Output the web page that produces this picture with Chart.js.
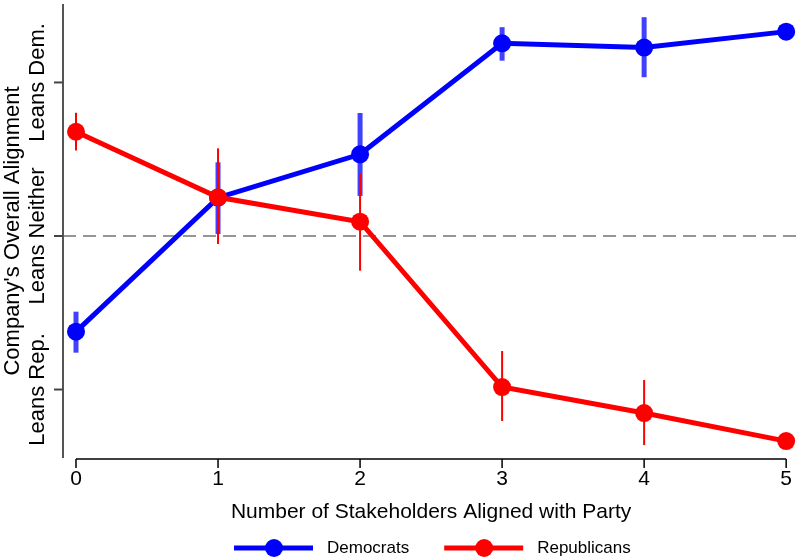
<!DOCTYPE html>
<html>
<head>
<meta charset="utf-8">
<script src="https://cdn.jsdelivr.net/npm/chart.js@4/dist/chart.umd.min.js"></script>
<style>
  html, body { margin: 0; padding: 0; background: #fff; }
  canvas { display: block; }
</style>
</head>
<body>
<canvas id="c" width="801" height="557"></canvas>
<script>
// Number of stakeholders aligned with the respondent's party
const stakeholders = [0, 1, 2, 3, 4, 5];
const xTickLabels = ['0', '1', '2', '3', '4', '5'];

// Mean perceived alignment (-1 = leans Rep., 0 = neither, 1 = leans Dem.) with CI bounds
const demMean = [-0.623, 0.250, 0.532, 1.255, 1.227, 1.331];
const demLow  = [-0.760, 0.013, 0.261, 1.142, 1.034, null];
const demHigh = [-0.493, 0.480, 0.801, 1.360, 1.425, null];

const repMean = [0.679, 0.252, 0.093, -0.984, -1.153, -1.336];
const repLow  = [0.556, -0.052, -0.226, -1.205, -1.362, null];
const repHigh = [0.803, 0.571, 0.408, -0.749, -0.938, null];

const yTickValues = [-1, 0, 1];
const yTickLabels = ['Leans Rep.', 'Leans Neither', 'Leans Dem.'];

const FONT = '"Liberation Sans", Arial, Helvetica, sans-serif';

const errorBars = [
  { low: demLow, high: demHigh, color: 'rgba(0,0,255,0.75)', width: 5 },
  { low: repLow, high: repHigh, color: '#ff0000', width: 2 }
];

const stataPlot = {
  id: 'stataPlot',
  beforeDatasetsDraw(chart) {
    const { ctx, chartArea: a, scales: { x, y } } = chart;
    const axisX = a.left - 13;
    ctx.save();
    // dashed reference line at "Leans Neither"
    const y0 = y.getPixelForValue(0);
    ctx.strokeStyle = '#969696';
    ctx.lineWidth = 2;
    ctx.setLineDash([13, 7]);
    ctx.beginPath();
    ctx.moveTo(axisX, y0);
    ctx.lineTo(chart.width, y0);
    ctx.stroke();
    ctx.setLineDash([]);

    // y axis, ticks and rotated labels
    ctx.strokeStyle = '#555';
    ctx.lineWidth = 2;
    ctx.beginPath();
    ctx.moveTo(axisX, a.top);
    ctx.lineTo(axisX, a.bottom);
    ctx.stroke();
    yTickValues.forEach((v, i) => {
      const py = y.getPixelForValue(v);
      ctx.strokeStyle = '#444';
      ctx.beginPath();
      ctx.moveTo(axisX - 9, py);
      ctx.lineTo(axisX, py);
      ctx.stroke();
      ctx.save();
      ctx.translate(43.5, py);
      ctx.rotate(-Math.PI / 2);
      ctx.font = '22px ' + FONT;
      ctx.fillStyle = '#000';
      ctx.textAlign = 'center';
      ctx.textBaseline = 'alphabetic';
      ctx.fillText(yTickLabels[i], 0, 0);
      ctx.restore();
    });

    // x axis line with downward ticks
    const xb = a.bottom + 1;
    ctx.strokeStyle = '#000';
    ctx.lineWidth = 1.5;
    ctx.beginPath();
    ctx.moveTo(x.getPixelForValue(stakeholders[0]), xb);
    ctx.lineTo(x.getPixelForValue(stakeholders[stakeholders.length - 1]), xb);
    ctx.stroke();
    stakeholders.forEach(v => {
      const px = x.getPixelForValue(v);
      ctx.beginPath();
      ctx.moveTo(px, xb);
      ctx.lineTo(px, xb + 9);
      ctx.stroke();
    });
    ctx.restore();
  },
  afterDatasetDraw(chart, args) {
    const bars = errorBars[args.index];
    if (!bars) return;
    const { ctx, scales: { x, y } } = chart;
    ctx.save();
    ctx.strokeStyle = bars.color;
    ctx.lineWidth = bars.width;
    ctx.lineCap = 'butt';
    bars.low.forEach((lo, i) => {
      const hi = bars.high[i];
      if (lo == null || hi == null) return;
      const px = x.getPixelForValue(stakeholders[i]);
      ctx.beginPath();
      ctx.moveTo(px, y.getPixelForValue(lo));
      ctx.lineTo(px, y.getPixelForValue(hi));
      ctx.stroke();
    });
    ctx.restore();
  },
  afterDraw(chart) {
    // legend row: line-with-marker key followed by the series name
    const ctx = chart.ctx;
    ctx.save();
    ctx.font = '17px ' + FONT;
    const cy = 548;
    let cx = 234;
    chart.data.datasets.forEach(ds => {
      ctx.strokeStyle = ds.borderColor;
      ctx.lineWidth = 5;
      ctx.beginPath();
      ctx.moveTo(cx, cy);
      ctx.lineTo(cx + 79, cy);
      ctx.stroke();
      ctx.fillStyle = ds.borderColor;
      ctx.beginPath();
      ctx.arc(cx + 40, cy, 9, 0, Math.PI * 2);
      ctx.fill();
      ctx.fillStyle = '#000';
      ctx.textAlign = 'left';
      ctx.textBaseline = 'middle';
      ctx.fillText(ds.label, cx + 93, cy);
      cx += 93 + ctx.measureText(ds.label).width + 35;
    });
    ctx.restore();
  }
};

const toPoints = (ys) => stakeholders.map((x, i) => ({ x, y: ys[i] }));

new Chart(document.getElementById('c'), {
  type: 'line',
  data: {
    datasets: [
      {
        label: 'Democrats',
        data: toPoints(demMean),
        borderColor: '#0000ff',
        backgroundColor: '#0000ff',
        pointBackgroundColor: '#0000ff',
        borderWidth: 5,
        pointRadius: 9,
        pointBorderWidth: 0,
        tension: 0,
        order: 2,
        clip: false
      },
      {
        label: 'Republicans',
        data: toPoints(repMean),
        borderColor: '#ff0000',
        backgroundColor: '#ff0000',
        pointBackgroundColor: '#ff0000',
        borderWidth: 5,
        pointRadius: 9,
        pointBorderWidth: 0,
        tension: 0,
        order: 1,
        clip: false
      }
    ]
  },
  options: {
    responsive: false,
    animation: false,
    devicePixelRatio: 1,
    layout: { autoPadding: false, padding: { left: 0, right: 11, top: 4, bottom: 32 } },
    plugins: {
      legend: { display: false },
      tooltip: { enabled: false }
    },
    scales: {
      x: {
        type: 'linear',
        min: 0,
        max: 5,
        afterBuildTicks: s => { s.ticks = stakeholders.map(v => ({ value: v })); },
        afterFit: s => { s.height = 67; },
        grid: { display: false, drawTicks: false },
        border: { display: false },
        ticks: {
          padding: 9,
          color: '#000',
          font: { family: FONT, size: 21 },
          callback: (v, i) => xTickLabels[i]
        },
        title: {
          display: true,
          text: 'Number of Stakeholders Aligned with Party',
          color: '#000',
          font: { family: FONT, size: 21 },
          padding: 0
        }
      },
      y: {
        type: 'linear',
        min: -1.446,
        max: 1.511,
        afterBuildTicks: s => { s.ticks = yTickValues.map(v => ({ value: v })); },
        afterFit: s => { s.width = 76; },
        grid: { display: false, drawTicks: false },
        border: { display: false },
        ticks: { display: false },
        title: {
          display: true,
          text: "Company's Overall Alignment",
          color: '#000',
          font: { family: FONT, size: 22 },
          padding: 0
        }
      }
    }
  },
  plugins: [stataPlot]
});
</script>
</body>
</html>
